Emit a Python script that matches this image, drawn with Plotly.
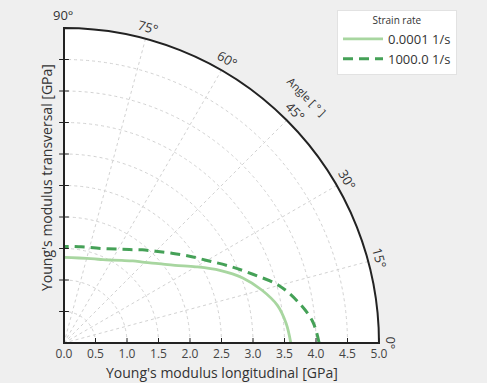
import plotly.graph_objects as go
import math

# ---- data ----
theta_deg = [0, 5, 10, 15, 20, 25, 30, 35, 40, 45, 50, 55, 60, 65, 70, 75, 80, 85, 90]
e_low_rate = [3.60, 3.54, 3.44, 3.25, 3.02, 2.73, 2.42, 2.15, 1.96, 1.81, 1.70, 1.60, 1.52, 1.46, 1.42, 1.39, 1.37, 1.36, 1.36]
e_high_rate = [4.05, 3.96, 3.77, 3.53, 3.19, 2.89, 2.62, 2.41, 2.22, 2.06, 1.93, 1.81, 1.72, 1.65, 1.60, 1.57, 1.55, 1.54, 1.53]
series_names = ["0.0001 1/s", "1000.0 1/s"]
angle_ticks = [0, 15, 30, 45, 60, 75, 90]
angle_labels = ["0°", "15°", "30°", "45°", "60°", "75°", "90°"]
radial_ticks = [0.5, 1.0, 1.5, 2.0, 2.5, 3.0, 3.5, 4.0, 4.5, 5.0]

FONT = "Open Sans"
W, H = 487, 383
ML, MR, MT, MB = 63, 107, 28, 40
PW, PH = W - ML - MR, H - MT - MB
R_PX = PH  # radius in px

def to_paper(px, py):
    return (px - ML) / PW, (H - MB - py) / PH

fig = go.Figure()

fig.add_trace(go.Scatterpolar(
    r=e_low_rate, theta=theta_deg, mode="lines", name=series_names[0],
    line=dict(color="#a8d6a0", width=2.8, shape="spline"),
))
fig.add_trace(go.Scatterpolar(
    r=e_high_rate, theta=theta_deg, mode="lines", name=series_names[1],
    line=dict(color="#45a157", width=3, dash="10px,6px", shape="spline"),
))
# left (90 deg) axis line with ticks
fig.add_trace(go.Scatterpolar(
    r=[0, 5], theta=[90, 90], mode="lines", showlegend=False, hoverinfo="skip",
    line=dict(color="#222222", width=2),
))
fig.add_trace(go.Scatterpolar(
    r=radial_ticks[:-1], theta=[90] * (len(radial_ticks) - 1), mode="markers",
    showlegend=False, hoverinfo="skip",
    marker=dict(symbol="line-ew", size=7, line=dict(color="#222222", width=1)),
))

annotations = []
orig_x, orig_y = ML, H - MB
for a, lab in zip(angle_ticks, angle_labels):
    rr = R_PX * 1.04
    px = orig_x + rr * math.cos(math.radians(a))
    py = orig_y - rr * math.sin(math.radians(a))
    x, y = to_paper(px, py)
    annotations.append(dict(x=x, y=y, xref="paper", yref="paper", text=lab,
                            showarrow=False, textangle=90 - a,
                            font=dict(family=FONT, size=13, color="#333333"),
                            xanchor="center", yanchor="middle"))
# angle axis title
rr = R_PX * 1.10
px = orig_x + rr * math.cos(math.radians(45.3))
py = orig_y - rr * math.sin(math.radians(45.3))
x, y = to_paper(px, py)
annotations.append(dict(x=x, y=y, xref="paper", yref="paper", text="Angle [ ° ]",
                        showarrow=False, textangle=45,
                        font=dict(family=FONT, size=11, color="#333333"),
                        xanchor="center", yanchor="middle"))
x, y = to_paper(222, 372)
annotations.append(dict(x=x, y=y, xref="paper", yref="paper",
                        text="Young's modulus longitudinal [GPa]", showarrow=False,
                        font=dict(family=FONT, size=14, color="#333333"),
                        xanchor="center", yanchor="middle"))
x, y = to_paper(46, 178)
annotations.append(dict(x=x, y=y, xref="paper", yref="paper",
                        text="Young's modulus transversal [GPa]", showarrow=False,
                        textangle=-90,
                        font=dict(family=FONT, size=14, color="#333333"),
                        xanchor="center", yanchor="middle"))

fig.update_layout(
    width=W, height=H,
    margin=dict(l=ML, r=MR, t=MT, b=MB, pad=0, autoexpand=False),
    paper_bgcolor="#efefef",
    font=dict(family=FONT, color="#333333"),
    polar=dict(
        sector=[0, 90],
        domain=dict(x=[0, 1], y=[0, 1]),
        bgcolor="white",
        radialaxis=dict(
            range=[0, 5], tickvals=[0] + radial_ticks, tickformat=".1f",
            showline=True, linecolor="#222222", linewidth=2,
            gridcolor="#d2d2d2", griddash="dot", gridwidth=1,
            ticks="inside", ticklen=4, tickcolor="#222222",
            angle=0, tickangle=0, side="clockwise",
            tickfont=dict(family=FONT, size=12, color="#444444"),
        ),
        angularaxis=dict(
            tickvals=angle_ticks, showticklabels=False, ticks="",
            rotation=0, direction="counterclockwise",
            showline=True, linecolor="#222222", linewidth=2,
            gridcolor="#d2d2d2", griddash="dot", gridwidth=1,
        ),
    ),
    legend=dict(
        x=337 / W, y=1 - 10 / H, xref="container", yref="container",
        xanchor="left", yanchor="top",
        bgcolor="white", bordercolor="#e2e2e2", borderwidth=1,
        title=dict(text="Strain rate", side="top center",
                   font=dict(family=FONT, size=10, color="#333333")),
        font=dict(family=FONT, size=13, color="#333333"),
        itemwidth=40,
    ),
    annotations=annotations,
)

fig.write_html("out.html", config={"displayModeBar": False},
               post_script="document.body.style.margin='0';document.body.style.background='#efefef';")
